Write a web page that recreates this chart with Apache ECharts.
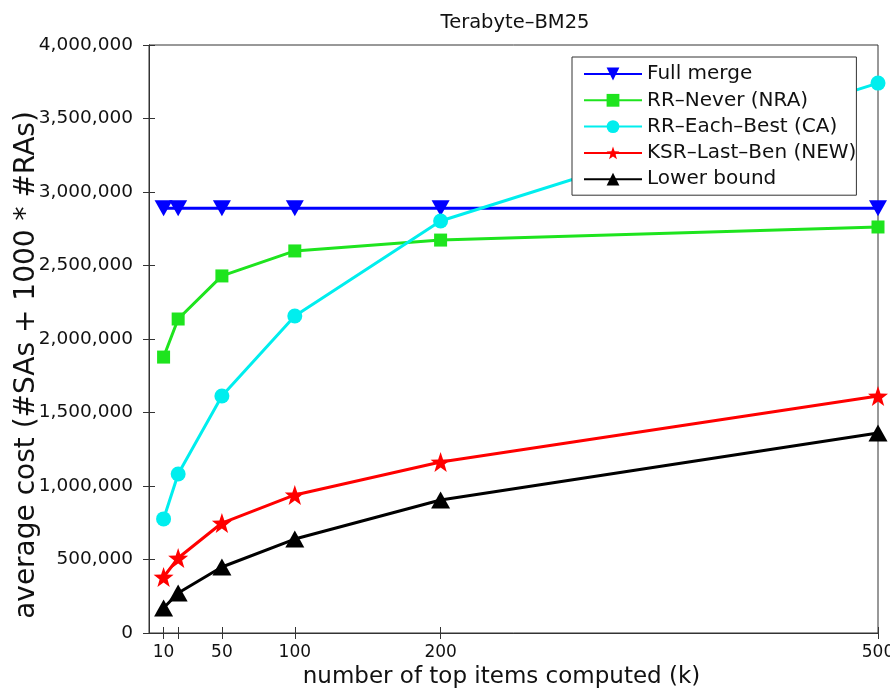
<!DOCTYPE html>
<html>
<head>
<meta charset="utf-8">
<script src="https://cdn.jsdelivr.net/npm/echarts@6/dist/echarts.min.js"></script>
<style>
  html, body { margin: 0; padding: 0; background: #fff; }
  #chart { width: 890px; height: 695px; }
</style>
</head>
<body>
<div id="chart"></div>
<script>
// x positions (k) and tick labels
var kValues = [10, 20, 50, 100, 200, 500];
var xTickValues = [10, 20, 50, 100, 200, 500];
var xLabelValues = [10, 50, 100, 200, 500];

// average cost per method
var fullMerge = [2890000, 2890000, 2890000, 2890000, 2890000, 2890000];
var rrNever = [1877000, 2136000, 2429000, 2599000, 2673000, 2762000];
var rrEachBest = [776000, 1082000, 1612000, 2156000, 2803000, 3741000];
var ksrLastBen = [381000, 510000, 748000, 939000, 1163000, 1612000];
var lowerBound = [170000, 272000, 449000, 639000, 905000, 1360000];

var seriesNames = ['Full merge', 'RR\u2013Never (NRA)', 'RR\u2013Each\u2013Best (CA)', 'KSR\u2013Last\u2013Ben (NEW)', 'Lower bound'];

var starPath = 'path://M0,-10 L2.35,-3.24 L9.51,-3.09 L3.8,1.24 L5.88,8.09 L0,4 L-5.88,8.09 L-3.8,1.24 L-9.51,-3.09 L-2.35,-3.24 Z';
var font = 'DejaVu Sans, sans-serif';
var axisColor = '#333';

function pairs(vals) {
  return kValues.map(function (k, i) { return [k, vals[i]]; });
}

function mkSeries(name, vals, color, symbol, size, rotate) {
  return {
    name: name,
    type: 'line',
    data: pairs(vals),
    symbol: symbol,
    symbolSize: size,
    symbolRotate: rotate || 0,
    showAllSymbol: true,
    lineStyle: { color: color, width: 3 },
    itemStyle: { color: color },
    emphasis: { disabled: true },
    z: 3
  };
}

var chart = echarts.init(document.getElementById('chart'));
chart.setOption({
  animation: false,
  backgroundColor: '#fff',
  title: {
    text: 'Terabyte\u2013BM25',
    left: 510,
    textAlign: 'center',
    top: 8,
    textStyle: { fontFamily: font, fontSize: 19.5, fontWeight: 'normal', color: '#111' }
  },
  grid: {
    left: 149, right: 12, top: 45, bottom: 62,
    outerBoundsMode: 'none',
    show: true, borderColor: axisColor, borderWidth: 1
  },
  legend: {
    orient: 'vertical',
    left: 572,
    top: 57,
    padding: [7, 0, 6, 11],
    itemWidth: 58,
    itemHeight: 16,
    itemGap: 6.3,
    backgroundColor: '#fff',
    borderColor: axisColor,
    borderWidth: 1,
    textStyle: { fontFamily: font, fontSize: 20, color: '#111' },
    data: seriesNames
  },
  xAxis: [{
    type: 'value',
    min: 0,
    max: 500,
    position: 'bottom',
    name: 'number of top items computed (k)',
    nameLocation: 'middle',
    nameGap: 32,
    nameTextStyle: { fontFamily: font, fontSize: 23, color: '#111', padding: [0, 24, 0, 0] },
    splitLine: { show: false },
    axisLine: { lineStyle: { color: axisColor } },
    axisTick: { inside: true, length: 6, customValues: xTickValues, lineStyle: { color: axisColor } },
    axisLabel: {
      customValues: xLabelValues,
      margin: 11,
      fontFamily: font, fontSize: 17, color: '#111'
    }
  }, {
    type: 'value',
    min: 0,
    max: 500,
    position: 'top',
    splitLine: { show: false },
    axisLine: { lineStyle: { color: axisColor } },
    axisTick: { inside: true, length: 6, customValues: xTickValues, lineStyle: { color: axisColor } },
    axisLabel: { show: false }
  }],
  yAxis: [{
    type: 'value',
    min: 0,
    max: 4000000,
    interval: 500000,
    position: 'left',
    name: 'average cost (#SAs + 1000 * #RAs)',
    nameLocation: 'middle',
    nameGap: 108,
    nameMoveOverlap: false,
    nameTextStyle: { fontFamily: font, fontSize: 28, color: '#111', padding: [0, 52, 0, 0] },
    splitLine: { show: false },
    axisLine: { lineStyle: { color: axisColor } },
    axisTick: { inside: true, length: 6, lineStyle: { color: axisColor } },
    axisLabel: {
      margin: 16,
      fontFamily: font, fontSize: 18.5, color: '#111',
      formatter: function (v) { return v.toLocaleString('en-US'); }
    }
  }, {
    type: 'value',
    min: 0,
    max: 4000000,
    interval: 500000,
    position: 'right',
    splitLine: { show: false },
    axisLine: { lineStyle: { color: axisColor } },
    axisTick: { inside: true, length: 6, lineStyle: { color: axisColor } },
    axisLabel: { show: false }
  }],
  series: [
    mkSeries(seriesNames[0], fullMerge, '#0000ff', 'triangle', [18, 16], 180),
    mkSeries(seriesNames[1], rrNever, '#1ee41e', 'rect', 13),
    mkSeries(seriesNames[2], rrEachBest, '#00eeee', 'circle', 15),
    mkSeries(seriesNames[3], ksrLastBen, '#ff0000', starPath, 20),
    mkSeries(seriesNames[4], lowerBound, '#000000', 'triangle', [19, 17])
  ]
});
</script>
</body>
</html>
